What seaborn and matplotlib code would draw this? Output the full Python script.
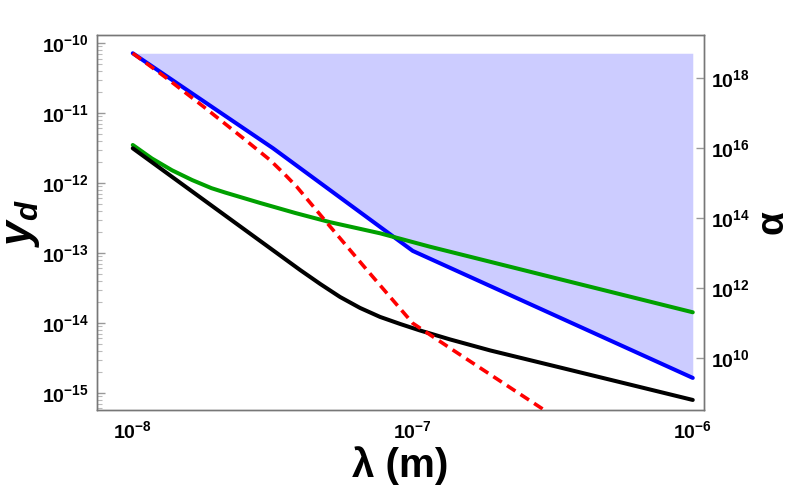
import numpy as np
import pandas as pd
import matplotlib
matplotlib.use("Agg")
import matplotlib.pyplot as plt
import matplotlib.ticker as mticker
import seaborn as sns

# data (lambda in m, y_d dimensionless)
lam_blue = [1e-8, 3.17e-8, 1e-7, 1e-6]
yd_blue = [7.13e-11, 3.13e-12, 1.07e-13, 1.64e-15]
shade_top = 7.13e-11

lam_red = [1e-8, 1.30e-8, 1.79e-8, 2.48e-8, 3.09e-8, 3.45e-8, 3.85e-8,
           5.07e-8, 6.86e-8, 1.0e-7, 1.36e-7, 3.01e-7, 1e-6]
yd_red = [7.13e-11, 3.30e-11, 1.23e-11, 4.36e-12, 2.13e-12, 1.39e-12,
          8.85e-13, 2.38e-13, 5.71e-14, 9.9e-15, 4.36e-15, 5.4e-16, 2.2e-17]

lam_green = [1e-8, 1.17e-8, 1.38e-8, 1.63e-8, 1.91e-8, 2.14e-8, 2.85e-8,
             3.80e-8, 5.07e-8, 7.64e-8, 1.15e-7, 3.36e-7, 1e-6]
yd_green = [3.49e-12, 2.24e-12, 1.52e-12, 1.10e-12, 8.43e-13, 7.29e-13,
            5.18e-13, 3.73e-13, 2.75e-13, 1.91e-13, 1.23e-13, 4.21e-14,
            1.42e-14]

lam_black = [1e-8, 3.96e-8, 4.67e-8, 5.50e-8, 6.48e-8, 7.64e-8, 9.01e-8,
             1.06e-7, 1.36e-7, 1.89e-7, 3.36e-7, 1e-6]
yd_black = [3.13e-12, 5.71e-14, 3.61e-14, 2.35e-14, 1.64e-14, 1.22e-14,
            9.68e-15, 7.82e-15, 5.81e-15, 4.05e-15, 2.31e-15, 7.94e-16]

x_ticks = [1e-8, 1e-7, 1e-6]
x_ticklabels = ["-8", "-7", "-6"]
y_ticks = [1e-10, 1e-11, 1e-12, 1e-13, 1e-14, 1e-15]
y_ticklabels = ["-10", "-11", "-12", "-13", "-14", "-15"]
a_ticks = [1e10, 1e12, 1e14, 1e16, 1e18]
a_ticklabels = ["10", "12", "14", "16", "18"]

sns.set_style("white")
plt.rcParams["font.family"] = ["Liberation Sans", "DejaVu Sans"]
plt.rcParams["mathtext.fontset"] = "custom"
plt.rcParams["mathtext.rm"] = "Liberation Sans"
plt.rcParams["mathtext.bf"] = "Liberation Sans:bold"
plt.rcParams["mathtext.it"] = "Liberation Sans:italic:bold"
plt.rcParams["text.color"] = "black"
plt.rcParams["axes.labelcolor"] = "black"
plt.rcParams["xtick.labelcolor"] = "black"
plt.rcParams["ytick.labelcolor"] = "black"

fig = plt.figure(figsize=(7.89, 4.93), dpi=100)
ax = fig.add_axes([0.1229, 0.1684, 0.7694, 0.7606])

# shaded excluded region above the blue curve
ax.fill_between(lam_blue, yd_blue, shade_top, color="#ccccff", lw=0, zorder=1)

sns.lineplot(x=lam_blue, y=yd_blue, ax=ax, color="#0000ff", lw=2.9,
             sort=False, estimator=None, zorder=3)
sns.lineplot(x=lam_green, y=yd_green, ax=ax, color="#00a000", lw=2.9,
             sort=False, estimator=None, zorder=3)
sns.lineplot(x=lam_black, y=yd_black, ax=ax, color="black", lw=2.9,
             sort=False, estimator=None, zorder=3)
sns.lineplot(x=lam_red, y=yd_red, ax=ax, color="#ff0000", lw=2.6,
             sort=False, estimator=None, zorder=4)
ax.lines[-1].set_dashes([2.8, 1.7])
for ln in ax.lines:
    ln.set_solid_joinstyle("round")
    ln.set_dash_joinstyle("round")

ax.set_xscale("log")
ax.set_yscale("log")
ax.set_xlim(7.45e-9, 1.097e-6)
ylo, yhi = 5.71e-16, 1.30e-10
ax.set_ylim(ylo, yhi)

ax.xaxis.set_major_locator(mticker.FixedLocator(x_ticks))
ax.xaxis.set_minor_locator(mticker.NullLocator())
ax.set_xticklabels([r"$\mathbf{10^{%s}}$" % s for s in x_ticklabels])
ax.yaxis.set_major_locator(mticker.FixedLocator(y_ticks))
ax.yaxis.set_minor_locator(mticker.LogLocator(base=10, subs=np.arange(2, 10)))
ax.yaxis.set_minor_formatter(mticker.NullFormatter())
ax.set_yticklabels([r"$\mathbf{10^{%s}}$" % s for s in y_ticklabels])

ax.tick_params(axis="both", which="major", direction="in", length=6,
               width=1, color="#999999", labelsize=14, pad=6,
               labelcolor="black")
ax.tick_params(axis="y", which="minor", direction="in", length=3.5,
               width=0.8, color="#bbbbbb")
ax.tick_params(axis="x", pad=7)

for sp in ax.spines.values():
    sp.set_color("#777777")
    sp.set_linewidth(1)

ax.set_xlabel("λ (m)", fontsize=29, fontweight="bold", labelpad=3,
              color="black")
ax.set_ylabel(r"$y_d$", fontsize=32, labelpad=0, color="black")

# right axis: alpha = 1e39 * y_d^2
ax2 = ax.twinx()
ax2.set_yscale("log")
ax2.set_ylim(1e39 * ylo ** 2, 1e39 * yhi ** 2)
ax2.yaxis.set_major_locator(mticker.FixedLocator(a_ticks))
ax2.yaxis.set_minor_locator(mticker.NullLocator())
ax2.set_yticklabels([r"$\mathbf{10^{%s}}$" % s for s in a_ticklabels])
ax2.tick_params(axis="y", which="major", direction="in", length=6,
                width=1, color="#999999", labelsize=14, pad=5,
                labelcolor="black")
for sp in ax2.spines.values():
    sp.set_color("#777777")
    sp.set_linewidth(1)
ax2.set_ylabel("α", fontsize=28, fontweight="bold", labelpad=3,
               color="black")
ax2.grid(False)
ax.grid(False)

fig.savefig("out.png", dpi=100)
